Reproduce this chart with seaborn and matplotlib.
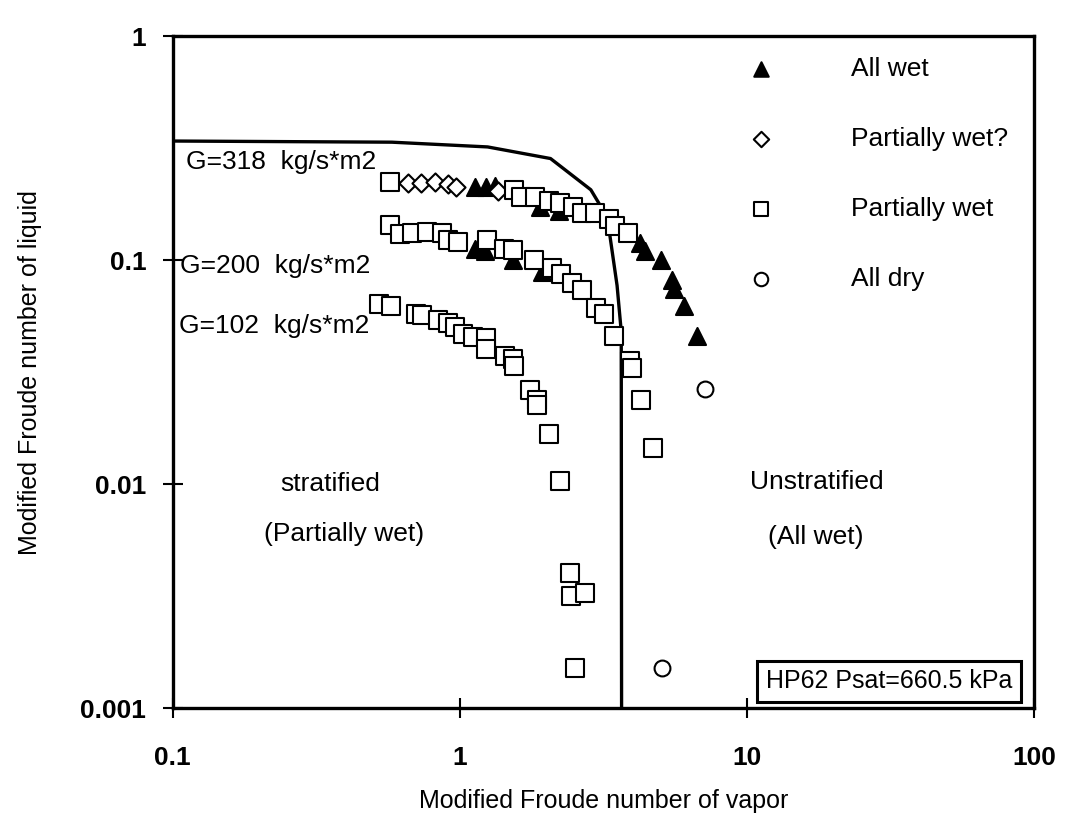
#!/usr/bin/env python3
"""Flow pattern map: modified Froude numbers, HP62 at Psat=660.5 kPa."""

import matplotlib
matplotlib.use('Agg')
import matplotlib.pyplot as plt
import pandas as pd
import seaborn as sns

# stratified / unstratified transition curve
boundary_x = [0.1, 0.58, 1.25, 2.07, 2.86, 3.07, 3.32, 3.53, 3.65, 3.66]
boundary_y = [0.34, 0.336, 0.32, 0.284, 0.206, 0.177, 0.133, 0.077, 0.048, 0.001]

# All wet (filled triangles)
all_wet_x = [1.13, 1.23, 1.33, 1.90, 2.22, 4.23, 4.41, 5.02, 5.47, 5.57, 6.06, 6.71,
             1.13, 1.22, 1.53, 1.93]
all_wet_y = [0.212, 0.213, 0.214, 0.173, 0.166, 0.119, 0.110, 0.100, 0.0817, 0.0745,
             0.0621, 0.0458, 0.112, 0.110, 0.0996, 0.0889]

# Partially wet? (open diamonds)
part_wet_q_x = [0.662, 0.734, 0.821, 0.910, 0.970, 1.355]
part_wet_q_y = [0.221, 0.222, 0.223, 0.219, 0.213, 0.203]

# Partially wet (open squares), G=318 / 200 / 102
part_wet_x = [0.570, 1.55, 1.63, 1.83, 2.05, 2.24, 2.47, 2.67, 2.96, 3.31, 3.48, 3.84,
              0.571, 0.621, 0.683, 0.769, 0.865, 0.910, 0.985, 1.24, 1.43, 1.53, 1.82,
              2.10, 2.26, 2.46, 2.67, 2.97, 3.17, 3.45, 3.91, 3.98, 4.28, 4.70,
              0.523, 0.576, 0.704, 0.738, 0.839, 0.908, 0.961, 1.03, 1.11, 1.23, 1.23,
              1.44, 1.53, 1.54, 1.75, 1.85, 1.85, 2.04, 2.23, 2.42, 2.43, 2.74, 2.52]
part_wet_y = [0.224, 0.205, 0.191, 0.192, 0.183, 0.180, 0.172, 0.162, 0.163, 0.153, 0.142, 0.132,
              0.144, 0.131, 0.132, 0.133, 0.132, 0.123, 0.121, 0.123, 0.112, 0.111, 0.100,
              0.092, 0.0869, 0.0787, 0.0735, 0.0614, 0.0573, 0.0459, 0.0356, 0.0329, 0.0237, 0.0145,
              0.0635, 0.0626, 0.0574, 0.057, 0.054, 0.0525, 0.0505, 0.0466, 0.0454, 0.0447, 0.0399,
              0.0374, 0.0360, 0.0338, 0.0263, 0.0238, 0.0226, 0.0167, 0.0103, 0.00402, 0.00317,
              0.00326, 0.00151]

# All dry (open circles)
all_dry_x = [7.14, 5.07]
all_dry_y = [0.0266, 0.00151]

x_ticks = [0.1, 1, 10, 100]
x_tick_labels = ['0.1', '1', '10', '100']
y_ticks = [0.001, 0.01, 0.1, 1]
y_tick_labels = ['0.001', '0.01', '0.1', '1']


def main():
    sns.set_style('ticks')
    plt.rcParams['font.family'] = ['Liberation Sans', 'DejaVu Sans']
    plt.rcParams['text.color'] = 'black'
    plt.rcParams['axes.labelcolor'] = 'black'

    fig = plt.figure(figsize=(10.66, 8.39), dpi=100)
    ax = fig.add_axes([0.162, 0.156, 0.808, 0.801])

    ax.plot(boundary_x, boundary_y, color='black', linewidth=2.4, zorder=1)

    sets = [
        ('All wet', all_wet_x, all_wet_y, '^', 'black', 150),
        ('Partially wet?', part_wet_q_x, part_wet_q_y, 'D', 'white', 85),
        ('Partially wet', part_wet_x, part_wet_y, 's', 'white', 160),
        ('All dry', all_dry_x, all_dry_y, 'o', 'white', 130),
    ]
    for i, (label, xs, ys, marker, face, size) in enumerate(sets):
        df = pd.DataFrame({'x': xs, 'y': ys})
        sns.scatterplot(data=df, x='x', y='y', ax=ax, marker=marker, s=size,
                        color=face, edgecolor='black', linewidth=1.5,
                        label=label, zorder=2 + i)

    ax.set_xscale('log')
    ax.set_yscale('log')
    ax.set_xlim(0.1, 100)
    ax.set_ylim(0.001, 1)
    ax.set_xticks(x_ticks, x_tick_labels)
    ax.set_yticks(y_ticks, y_tick_labels)
    ax.minorticks_off()
    ax.tick_params(axis='both', direction='inout', length=14, width=1.5,
                   labelsize=19, colors='black')
    ax.tick_params(axis='x', pad=20)
    ax.tick_params(axis='y', pad=12)
    for lbl in ax.get_xticklabels() + ax.get_yticklabels():
        lbl.set_fontweight('bold')
    for spine in ax.spines.values():
        spine.set_visible(True)
        spine.set_linewidth(2.4)
        spine.set_color('black')

    ax.set_xlabel('Modified Froude number of vapor', fontsize=18, labelpad=14)
    ax.set_ylabel('Modified Froude number of liquid', fontsize=18, labelpad=28)

    ax.text(0.111, 0.274, 'G=318  kg/s*m2', fontsize=19, va='center', ha='left')
    ax.text(0.106, 0.094, 'G=200  kg/s*m2', fontsize=19, va='center', ha='left')
    ax.text(0.105, 0.0506, 'G=102  kg/s*m2', fontsize=19, va='center', ha='left')
    ax.text(0.353, 0.0100, 'stratified', fontsize=19, ha='center', va='center')
    ax.text(0.396, 0.0060, '(Partially wet)', fontsize=19, ha='center', va='center')
    ax.text(17.5, 0.0102, 'Unstratified', fontsize=19, ha='center', va='center')
    ax.text(17.4, 0.0058, '(All wet)', fontsize=19, ha='center', va='center')
    ax.text(0.975, 0.022, 'HP62 Psat=660.5 kPa', fontsize=18, ha='right', va='bottom',
            transform=ax.transAxes,
            bbox=dict(boxstyle='square,pad=0.35', facecolor='white',
                      edgecolor='black', linewidth=2.2))

    ax.legend(loc='upper left', bbox_to_anchor=(0.64, 0.985), frameon=False,
              fontsize=19, labelspacing=1.75, handletextpad=2.4, markerscale=0.85,
              borderaxespad=0)

    fig.savefig('out.png', dpi=100)
    plt.close(fig)


if __name__ == '__main__':
    main()
